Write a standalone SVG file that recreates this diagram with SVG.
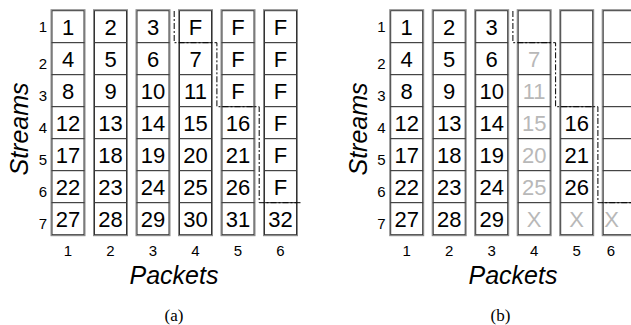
<svg xmlns="http://www.w3.org/2000/svg" width="631" height="325" viewBox="0 0 631 325">
<style>
.cell{fill:#fff;stroke:#333;stroke-width:1}
.col{fill:none;stroke:#8a8a8a;stroke-width:1}
.n{font-family:"Liberation Sans",Arial,sans-serif;font-size:22px;text-anchor:middle;fill:#000}
.g{fill:#b8b8b8}
.rl{font-family:"Liberation Sans",Arial,sans-serif;font-size:15px;text-anchor:end;fill:#000}
.cl{font-family:"Liberation Sans",Arial,sans-serif;font-size:15px;text-anchor:middle;fill:#000}
.ax{font-family:"Liberation Sans",Arial,sans-serif;font-size:25px;font-style:italic;text-anchor:middle;fill:#000}
.cap{font-family:"Liberation Serif","Times New Roman",serif;font-size:17px;text-anchor:middle;fill:#000}
.dash{fill:none;stroke:#000;stroke-width:1;stroke-dasharray:6,2,2,2}
</style>

<!-- Panel (a) -->
<g id="panel-a">
<g id="a-col1"><rect class="col" x="51" y="9.7" width="34" height="226"/>
<g id="a-r1c1"><rect class="cell" x="52" y="10.7" width="32" height="32"/><text class="n" x="68" y="35.2">1</text></g>
<g id="a-r2c1"><rect class="cell" x="52" y="42.7" width="32" height="32"/><text class="n" x="68" y="67.2">4</text></g>
<g id="a-r3c1"><rect class="cell" x="52" y="74.7" width="32" height="32"/><text class="n" x="68" y="99.2">8</text></g>
<g id="a-r4c1"><rect class="cell" x="52" y="106.7" width="32" height="32"/><text class="n" x="68" y="131.2">12</text></g>
<g id="a-r5c1"><rect class="cell" x="52" y="138.7" width="32" height="32"/><text class="n" x="68" y="163.2">17</text></g>
<g id="a-r6c1"><rect class="cell" x="52" y="170.7" width="32" height="32"/><text class="n" x="68" y="195.2">22</text></g>
<g id="a-r7c1"><rect class="cell" x="52" y="202.7" width="32" height="32"/><text class="n" x="68" y="227.2">27</text></g>
</g>
<g id="a-col2"><rect class="col" x="93.5" y="9.7" width="34" height="226"/>
<g id="a-r1c2"><rect class="cell" x="94.5" y="10.7" width="32" height="32"/><text class="n" x="110.5" y="35.2">2</text></g>
<g id="a-r2c2"><rect class="cell" x="94.5" y="42.7" width="32" height="32"/><text class="n" x="110.5" y="67.2">5</text></g>
<g id="a-r3c2"><rect class="cell" x="94.5" y="74.7" width="32" height="32"/><text class="n" x="110.5" y="99.2">9</text></g>
<g id="a-r4c2"><rect class="cell" x="94.5" y="106.7" width="32" height="32"/><text class="n" x="110.5" y="131.2">13</text></g>
<g id="a-r5c2"><rect class="cell" x="94.5" y="138.7" width="32" height="32"/><text class="n" x="110.5" y="163.2">18</text></g>
<g id="a-r6c2"><rect class="cell" x="94.5" y="170.7" width="32" height="32"/><text class="n" x="110.5" y="195.2">23</text></g>
<g id="a-r7c2"><rect class="cell" x="94.5" y="202.7" width="32" height="32"/><text class="n" x="110.5" y="227.2">28</text></g>
</g>
<g id="a-col3"><rect class="col" x="136" y="9.7" width="34" height="226"/>
<g id="a-r1c3"><rect class="cell" x="137" y="10.7" width="32" height="32"/><text class="n" x="153" y="35.2">3</text></g>
<g id="a-r2c3"><rect class="cell" x="137" y="42.7" width="32" height="32"/><text class="n" x="153" y="67.2">6</text></g>
<g id="a-r3c3"><rect class="cell" x="137" y="74.7" width="32" height="32"/><text class="n" x="153" y="99.2">10</text></g>
<g id="a-r4c3"><rect class="cell" x="137" y="106.7" width="32" height="32"/><text class="n" x="153" y="131.2">14</text></g>
<g id="a-r5c3"><rect class="cell" x="137" y="138.7" width="32" height="32"/><text class="n" x="153" y="163.2">19</text></g>
<g id="a-r6c3"><rect class="cell" x="137" y="170.7" width="32" height="32"/><text class="n" x="153" y="195.2">24</text></g>
<g id="a-r7c3"><rect class="cell" x="137" y="202.7" width="32" height="32"/><text class="n" x="153" y="227.2">29</text></g>
</g>
<g id="a-col4"><rect class="col" x="178.5" y="9.7" width="34" height="226"/>
<g id="a-r1c4"><rect class="cell" x="179.5" y="10.7" width="32" height="32"/><text class="n" x="195.5" y="35.2">F</text></g>
<g id="a-r2c4"><rect class="cell" x="179.5" y="42.7" width="32" height="32"/><text class="n" x="195.5" y="67.2">7</text></g>
<g id="a-r3c4"><rect class="cell" x="179.5" y="74.7" width="32" height="32"/><text class="n" x="195.5" y="99.2">11</text></g>
<g id="a-r4c4"><rect class="cell" x="179.5" y="106.7" width="32" height="32"/><text class="n" x="195.5" y="131.2">15</text></g>
<g id="a-r5c4"><rect class="cell" x="179.5" y="138.7" width="32" height="32"/><text class="n" x="195.5" y="163.2">20</text></g>
<g id="a-r6c4"><rect class="cell" x="179.5" y="170.7" width="32" height="32"/><text class="n" x="195.5" y="195.2">25</text></g>
<g id="a-r7c4"><rect class="cell" x="179.5" y="202.7" width="32" height="32"/><text class="n" x="195.5" y="227.2">30</text></g>
</g>
<g id="a-col5"><rect class="col" x="221" y="9.7" width="34" height="226"/>
<g id="a-r1c5"><rect class="cell" x="222" y="10.7" width="32" height="32"/><text class="n" x="238" y="35.2">F</text></g>
<g id="a-r2c5"><rect class="cell" x="222" y="42.7" width="32" height="32"/><text class="n" x="238" y="67.2">F</text></g>
<g id="a-r3c5"><rect class="cell" x="222" y="74.7" width="32" height="32"/><text class="n" x="238" y="99.2">F</text></g>
<g id="a-r4c5"><rect class="cell" x="222" y="106.7" width="32" height="32"/><text class="n" x="238" y="131.2">16</text></g>
<g id="a-r5c5"><rect class="cell" x="222" y="138.7" width="32" height="32"/><text class="n" x="238" y="163.2">21</text></g>
<g id="a-r6c5"><rect class="cell" x="222" y="170.7" width="32" height="32"/><text class="n" x="238" y="195.2">26</text></g>
<g id="a-r7c5"><rect class="cell" x="222" y="202.7" width="32" height="32"/><text class="n" x="238" y="227.2">31</text></g>
</g>
<g id="a-col6"><rect class="col" x="263.5" y="9.7" width="34" height="226"/>
<g id="a-r1c6"><rect class="cell" x="264.5" y="10.7" width="32" height="32"/><text class="n" x="280.5" y="35.2">F</text></g>
<g id="a-r2c6"><rect class="cell" x="264.5" y="42.7" width="32" height="32"/><text class="n" x="280.5" y="67.2">F</text></g>
<g id="a-r3c6"><rect class="cell" x="264.5" y="74.7" width="32" height="32"/><text class="n" x="280.5" y="99.2">F</text></g>
<g id="a-r4c6"><rect class="cell" x="264.5" y="106.7" width="32" height="32"/><text class="n" x="280.5" y="131.2">F</text></g>
<g id="a-r5c6"><rect class="cell" x="264.5" y="138.7" width="32" height="32"/><text class="n" x="280.5" y="163.2">F</text></g>
<g id="a-r6c6"><rect class="cell" x="264.5" y="170.7" width="32" height="32"/><text class="n" x="280.5" y="195.2">F</text></g>
<g id="a-r7c6"><rect class="cell" x="264.5" y="202.7" width="32" height="32"/><text class="n" x="280.5" y="227.2">32</text></g>
</g>
<g id="a-labels">
<text class="rl" x="47" y="32">1</text>
<text class="rl" x="47" y="69">2</text>
<text class="rl" x="47" y="101">3</text>
<text class="rl" x="47" y="133">4</text>
<text class="rl" x="47" y="165">5</text>
<text class="rl" x="47" y="197">6</text>
<text class="rl" x="47" y="229">7</text>
<text class="cl" x="68" y="256">1</text>
<text class="cl" x="110.5" y="256">2</text>
<text class="cl" x="153" y="256">3</text>
<text class="cl" x="195.5" y="256">4</text>
<text class="cl" x="238" y="256">5</text>
<text class="cl" x="280.5" y="256">6</text>
<text class="ax" x="174" y="284">Packets</text>
<text class="ax" transform="translate(28,129) rotate(-90)" x="0" y="0">Streams</text>
<text class="cap" x="174" y="321">(a)</text>
</g>
</g>

<!-- Panel (b) -->
<g id="panel-b">
<g id="b-col1"><rect class="col" x="389.7" y="9.7" width="34" height="226"/>
<g id="b-r1c1"><rect class="cell" x="390.7" y="10.7" width="32" height="32"/><text class="n" x="406.7" y="35.2">1</text></g>
<g id="b-r2c1"><rect class="cell" x="390.7" y="42.7" width="32" height="32"/><text class="n" x="406.7" y="67.2">4</text></g>
<g id="b-r3c1"><rect class="cell" x="390.7" y="74.7" width="32" height="32"/><text class="n" x="406.7" y="99.2">8</text></g>
<g id="b-r4c1"><rect class="cell" x="390.7" y="106.7" width="32" height="32"/><text class="n" x="406.7" y="131.2">12</text></g>
<g id="b-r5c1"><rect class="cell" x="390.7" y="138.7" width="32" height="32"/><text class="n" x="406.7" y="163.2">17</text></g>
<g id="b-r6c1"><rect class="cell" x="390.7" y="170.7" width="32" height="32"/><text class="n" x="406.7" y="195.2">22</text></g>
<g id="b-r7c1"><rect class="cell" x="390.7" y="202.7" width="32" height="32"/><text class="n" x="406.7" y="227.2">27</text></g>
</g>
<g id="b-col2"><rect class="col" x="432.2" y="9.7" width="34" height="226"/>
<g id="b-r1c2"><rect class="cell" x="433.2" y="10.7" width="32" height="32"/><text class="n" x="449.2" y="35.2">2</text></g>
<g id="b-r2c2"><rect class="cell" x="433.2" y="42.7" width="32" height="32"/><text class="n" x="449.2" y="67.2">5</text></g>
<g id="b-r3c2"><rect class="cell" x="433.2" y="74.7" width="32" height="32"/><text class="n" x="449.2" y="99.2">9</text></g>
<g id="b-r4c2"><rect class="cell" x="433.2" y="106.7" width="32" height="32"/><text class="n" x="449.2" y="131.2">13</text></g>
<g id="b-r5c2"><rect class="cell" x="433.2" y="138.7" width="32" height="32"/><text class="n" x="449.2" y="163.2">18</text></g>
<g id="b-r6c2"><rect class="cell" x="433.2" y="170.7" width="32" height="32"/><text class="n" x="449.2" y="195.2">23</text></g>
<g id="b-r7c2"><rect class="cell" x="433.2" y="202.7" width="32" height="32"/><text class="n" x="449.2" y="227.2">28</text></g>
</g>
<g id="b-col3"><rect class="col" x="474.7" y="9.7" width="34" height="226"/>
<g id="b-r1c3"><rect class="cell" x="475.7" y="10.7" width="32" height="32"/><text class="n" x="491.7" y="35.2">3</text></g>
<g id="b-r2c3"><rect class="cell" x="475.7" y="42.7" width="32" height="32"/><text class="n" x="491.7" y="67.2">6</text></g>
<g id="b-r3c3"><rect class="cell" x="475.7" y="74.7" width="32" height="32"/><text class="n" x="491.7" y="99.2">10</text></g>
<g id="b-r4c3"><rect class="cell" x="475.7" y="106.7" width="32" height="32"/><text class="n" x="491.7" y="131.2">14</text></g>
<g id="b-r5c3"><rect class="cell" x="475.7" y="138.7" width="32" height="32"/><text class="n" x="491.7" y="163.2">19</text></g>
<g id="b-r6c3"><rect class="cell" x="475.7" y="170.7" width="32" height="32"/><text class="n" x="491.7" y="195.2">24</text></g>
<g id="b-r7c3"><rect class="cell" x="475.7" y="202.7" width="32" height="32"/><text class="n" x="491.7" y="227.2">29</text></g>
</g>
<g id="b-col4"><rect class="col" x="517.2" y="9.7" width="34" height="226"/>
<g id="b-r1c4"><rect class="cell" x="518.2" y="10.7" width="32" height="32"/></g>
<g id="b-r2c4"><rect class="cell" x="518.2" y="42.7" width="32" height="32"/><text class="n g" x="534.2" y="67.2">7</text></g>
<g id="b-r3c4"><rect class="cell" x="518.2" y="74.7" width="32" height="32"/><text class="n g" x="534.2" y="99.2">11</text></g>
<g id="b-r4c4"><rect class="cell" x="518.2" y="106.7" width="32" height="32"/><text class="n g" x="534.2" y="131.2">15</text></g>
<g id="b-r5c4"><rect class="cell" x="518.2" y="138.7" width="32" height="32"/><text class="n g" x="534.2" y="163.2">20</text></g>
<g id="b-r6c4"><rect class="cell" x="518.2" y="170.7" width="32" height="32"/><text class="n g" x="534.2" y="195.2">25</text></g>
<g id="b-r7c4"><rect class="cell" x="518.2" y="202.7" width="32" height="32"/><text class="n g" x="534.2" y="227.2">X</text></g>
</g>
<g id="b-col5"><rect class="col" x="559.7" y="9.7" width="34" height="226"/>
<g id="b-r1c5"><rect class="cell" x="560.7" y="10.7" width="32" height="32"/></g>
<g id="b-r2c5"><rect class="cell" x="560.7" y="42.7" width="32" height="32"/></g>
<g id="b-r3c5"><rect class="cell" x="560.7" y="74.7" width="32" height="32"/></g>
<g id="b-r4c5"><rect class="cell" x="560.7" y="106.7" width="32" height="32"/><text class="n" x="576.7" y="131.2">16</text></g>
<g id="b-r5c5"><rect class="cell" x="560.7" y="138.7" width="32" height="32"/><text class="n" x="576.7" y="163.2">21</text></g>
<g id="b-r6c5"><rect class="cell" x="560.7" y="170.7" width="32" height="32"/><text class="n" x="576.7" y="195.2">26</text></g>
<g id="b-r7c5"><rect class="cell" x="560.7" y="202.7" width="32" height="32"/><text class="n g" x="576.7" y="227.2">X</text></g>
</g>
<g id="b-col6"><rect class="col" x="602.2" y="9.7" width="34" height="226"/>
<g id="b-r1c6"><rect class="cell" x="603.2" y="10.7" width="32" height="32"/></g>
<g id="b-r2c6"><rect class="cell" x="603.2" y="42.7" width="32" height="32"/></g>
<g id="b-r3c6"><rect class="cell" x="603.2" y="74.7" width="32" height="32"/></g>
<g id="b-r4c6"><rect class="cell" x="603.2" y="106.7" width="32" height="32"/></g>
<g id="b-r5c6"><rect class="cell" x="603.2" y="138.7" width="32" height="32"/></g>
<g id="b-r6c6"><rect class="cell" x="603.2" y="170.7" width="32" height="32"/></g>
<g id="b-r7c6"><rect class="cell" x="603.2" y="202.7" width="32" height="32"/><text class="n g" x="611.5" y="227.2">X</text></g>
</g>
<g id="b-labels">
<text class="rl" x="385.7" y="32">1</text>
<text class="rl" x="385.7" y="69">2</text>
<text class="rl" x="385.7" y="101">3</text>
<text class="rl" x="385.7" y="133">4</text>
<text class="rl" x="385.7" y="165">5</text>
<text class="rl" x="385.7" y="197">6</text>
<text class="rl" x="385.7" y="229">7</text>
<text class="cl" x="406.7" y="256">1</text>
<text class="cl" x="449.2" y="256">2</text>
<text class="cl" x="491.7" y="256">3</text>
<text class="cl" x="534.2" y="256">4</text>
<text class="cl" x="576.7" y="256">5</text>
<text class="cl" x="611" y="256">6</text>
<text class="ax" x="513" y="284">Packets</text>
<text class="ax" transform="translate(366.7,129) rotate(-90)" x="0" y="0">Streams</text>
<text class="cap" x="500.5" y="321">(b)</text>
</g>
</g>

<g id="connectors">
<path class="dash" d="M174.2,11 V42.7 H216.9 V106.7 H259.2 V202.7 H301.7"/>
<path class="dash" d="M512.9,11 V42.7 H555.6 V106.7 H597.9 V202.7 H631"/>
</g>
</svg>
